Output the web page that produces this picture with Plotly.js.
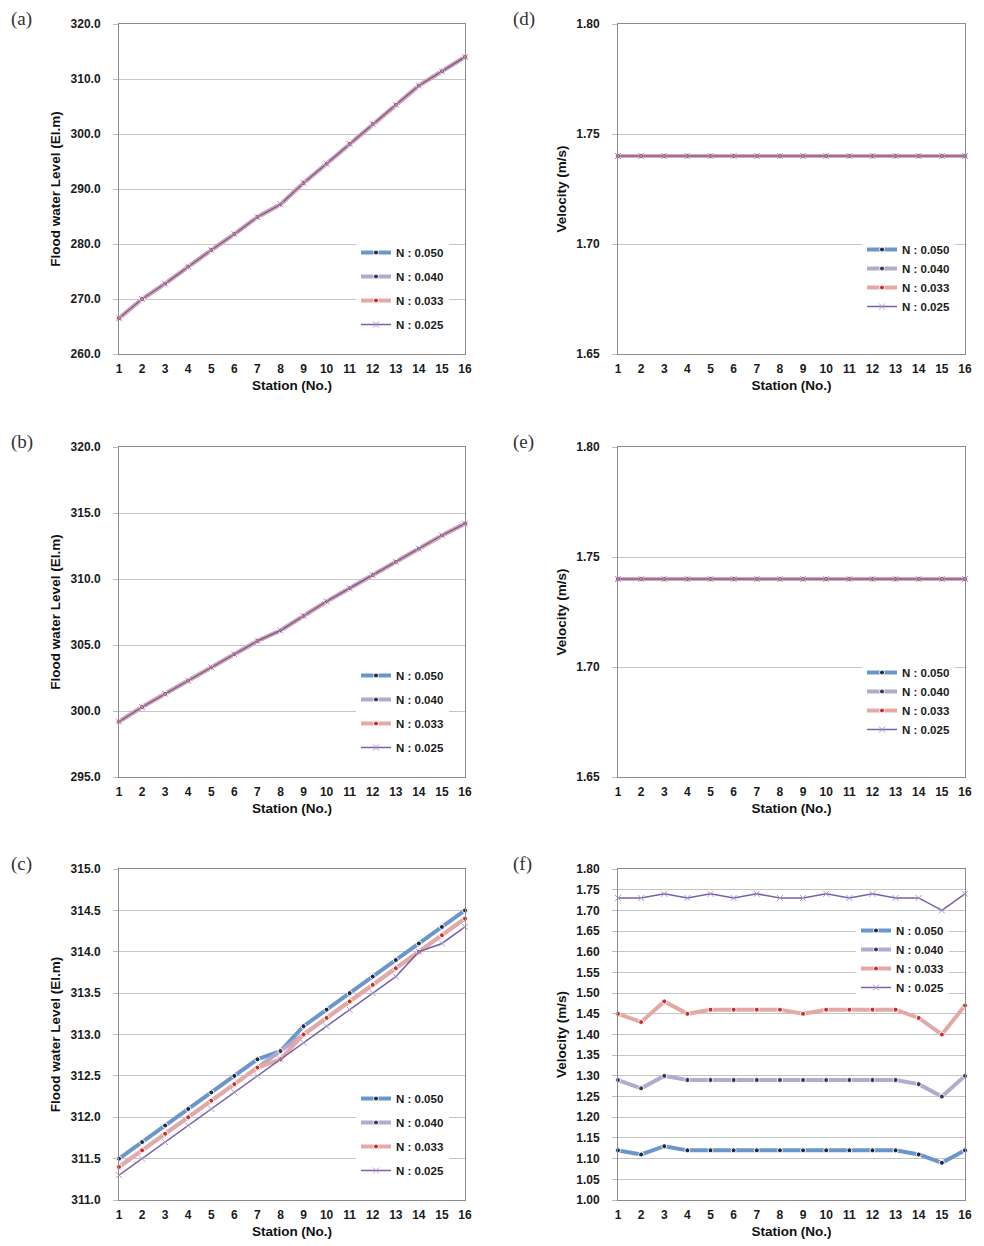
<!DOCTYPE html>
<html>
<head>
<meta charset="utf-8">
<script src="https://cdn.plot.ly/plotly-3.0.1.min.js"></script>
<style>html,body{margin:0;padding:0;background:#fff;}#chart{width:984px;height:1246px;}</style>
</head>
<body>
<div id="chart"></div>
<script>
// ---------- data ----------
const stations = [1,2,3,4,5,6,7,8,9,10,11,12,13,14,15,16];
const seriesNames = ['N : 0.050','N : 0.040','N : 0.033','N : 0.025'];

// (a) flood water level - all four roughness cases overlap
const levelA = [266.5,270.0,272.8,275.9,278.9,281.8,284.9,287.2,291.1,294.6,298.2,301.8,305.3,308.8,311.4,314.0];
// (b) flood water level - all four overlap
const levelB = [299.2,300.3,301.3,302.3,303.3,304.3,305.3,306.1,307.2,308.3,309.3,310.3,311.3,312.3,313.3,314.2];
// (c) flood water level
const levelC050 = [311.5,311.7,311.9,312.1,312.3,312.5,312.7,312.8,313.1,313.3,313.5,313.7,313.9,314.1,314.3,314.5];
const levelC040 = [311.4,311.6,311.8,312.0,312.2,312.4,312.6,312.8,313.0,313.2,313.4,313.6,313.8,314.0,314.2,314.4];
const levelC033 = [311.4,311.6,311.8,312.0,312.2,312.4,312.6,312.7,313.0,313.2,313.4,313.6,313.8,314.0,314.2,314.4];
const levelC025 = [311.3,311.5,311.7,311.9,312.1,312.3,312.5,312.7,312.9,313.1,313.3,313.5,313.7,314.0,314.1,314.3];
// (d), (e) velocity - all four overlap
const velD = [1.74,1.74,1.74,1.74,1.74,1.74,1.74,1.74,1.74,1.74,1.74,1.74,1.74,1.74,1.74,1.74];
const velE = [1.74,1.74,1.74,1.74,1.74,1.74,1.74,1.74,1.74,1.74,1.74,1.74,1.74,1.74,1.74,1.74];
// (f) velocity
const velF050 = [1.12,1.11,1.13,1.12,1.12,1.12,1.12,1.12,1.12,1.12,1.12,1.12,1.12,1.11,1.09,1.12];
const velF040 = [1.29,1.27,1.30,1.29,1.29,1.29,1.29,1.29,1.29,1.29,1.29,1.29,1.29,1.28,1.25,1.30];
const velF033 = [1.45,1.43,1.48,1.45,1.46,1.46,1.46,1.46,1.45,1.46,1.46,1.46,1.46,1.44,1.40,1.47];
const velF025 = [1.73,1.73,1.74,1.73,1.74,1.73,1.74,1.73,1.73,1.74,1.73,1.74,1.73,1.73,1.70,1.74];

const panelLabels = ['(a)','(d)','(b)','(e)','(c)','(f)'];
const yTitles = ['Flood water Level (El.m)','Velocity (m/s)','Flood water Level (El.m)','Velocity (m/s)','Flood water Level (El.m)','Velocity (m/s)'];
const xTitle = 'Station (No.)';

// ---------- styles ----------
const styles = [
  {line:{color:'#6a96cc',width:4}, marker:{symbol:'circle',size:5,color:'#1d2a44',line:{color:'#ffffff',width:1}}},
  {line:{color:'#b2abcf',width:4}, marker:{symbol:'circle',size:5,color:'#3b3656',line:{color:'#ffffff',width:1}}},
  {line:{color:'#e3a9a6',width:4}, marker:{symbol:'circle',size:5,color:'#c8302a',line:{color:'#ffffff',width:1}}},
  {line:{color:'#7a5fa6',width:1.5}, marker:{symbol:'x-thin',size:6,color:'#bba8dc',line:{color:'#a996d0',width:1}}}
];

const W = 984, H = 1246;
const colX = [[119,465],[618,965]];
const rowY = [[24,354],[447,777],[869,1200]];

const panelData = [
  [levelA,levelA,levelA,levelA],
  [velD,velD,velD,velD],
  [levelB,levelB,levelB,levelB],
  [velE,velE,velE,velE],
  [levelC050,levelC040,levelC033,levelC025],
  [velF050,velF040,velF033,velF025]
];
const yRanges = [[260,320],[1.65,1.80],[295,320],[1.65,1.80],[311,315],[1.00,1.80]];
const yDticks = [10,0.05,5,0.05,0.5,0.05];
const yFormats = ['.1f','.2f','.1f','.2f','.1f','.2f'];
// legend placement (px): left, top, group gap
const legendPos = [[356,238,5],[862,235,0],[356,661,5],[862,658,0],[356,1084,5],[856,916,0]];

const tickFont = {family:'Liberation Sans, Arial, sans-serif', size:12, color:'#1a1a1a', weight:'bold'};
const titleFont = {family:'Liberation Sans, Arial, sans-serif', size:13.5, color:'#111', weight:'bold'};

const traces = [];
const layout = {
  width: W, height: H,
  margin:{l:0,r:0,t:0,b:0},
  paper_bgcolor:'#ffffff', plot_bgcolor:'#ffffff',
  showlegend:true,
  annotations: []
};

for (let p = 0; p < 6; p++) {
  const col = p % 2, row = Math.floor(p / 2);
  const sfx = p === 0 ? '' : String(p + 1);
  const legName = p === 0 ? 'legend' : 'legend' + (p + 1);
  for (let s = 0; s < 4; s++) {
    traces.push({
      type:'scatter', mode:'lines+markers',
      x: stations, y: panelData[p][s],
      name: seriesNames[s],
      xaxis:'x' + sfx, yaxis:'y' + sfx,
      legend: legName, legendgroup: 'p' + p + 's' + s,
      line: styles[s].line, marker: styles[s].marker,
      cliponaxis:false, hoverinfo:'skip'
    });
  }
  const [xl, xr] = colX[col];
  const [yt, yb] = rowY[row];
  layout['xaxis' + sfx] = {
    domain:[xl / W, xr / W], anchor:'y' + sfx,
    range:[1,16], dtick:1, tick0:1, fixedrange:true,
    showgrid:false, zeroline:false,
    showline:true, mirror:true, linecolor:'#8c8c8c', linewidth:1,
    ticks:'', ticklabelstandoff:4,
    tickfont: tickFont,
    title:{text:xTitle, font:titleFont, standoff:5}
  };
  layout['yaxis' + sfx] = {
    domain:[1 - yb / H, 1 - yt / H], anchor:'x' + sfx,
    range: yRanges[p], dtick: yDticks[p], tick0: yRanges[p][0], tickformat: yFormats[p], fixedrange:true,
    showgrid:true, gridcolor:'#c4c4c4', gridwidth:1, zeroline:false,
    showline:true, mirror:true, linecolor:'#8c8c8c', linewidth:1,
    ticks:'outside', ticklen:5, tickcolor:'#bdbdbd', ticklabelstandoff:10,
    tickfont: tickFont,
    title:{text:yTitles[p], font:titleFont, standoff:6}
  };
  const lp = legendPos[p];
  layout[legName] = {
    x: lp[0] / W, y: 1 - lp[1] / H, xanchor:'left', yanchor:'top',
    bgcolor:'rgba(255,255,255,1)', borderwidth:0,
    font:{family:'Liberation Sans, Arial, sans-serif', size:11.5, color:'#1a1a1a', weight:'bold'},
    itemwidth:30, tracegroupgap: lp[2], traceorder:'grouped'
  };
  layout.annotations.push({
    text: panelLabels[p], xref:'paper', yref:'paper',
    x: (col === 0 ? 9 : 511) / W, y: 1 - (yt - 5) / H,
    xanchor:'left', yanchor:'middle', showarrow:false,
    font:{family:'Liberation Serif, DejaVu Serif, serif', size:19, color:'#333'}
  });
}

Plotly.newPlot('chart', traces, layout, {staticPlot:true, displayModeBar:false});
</script>
</body>
</html>
